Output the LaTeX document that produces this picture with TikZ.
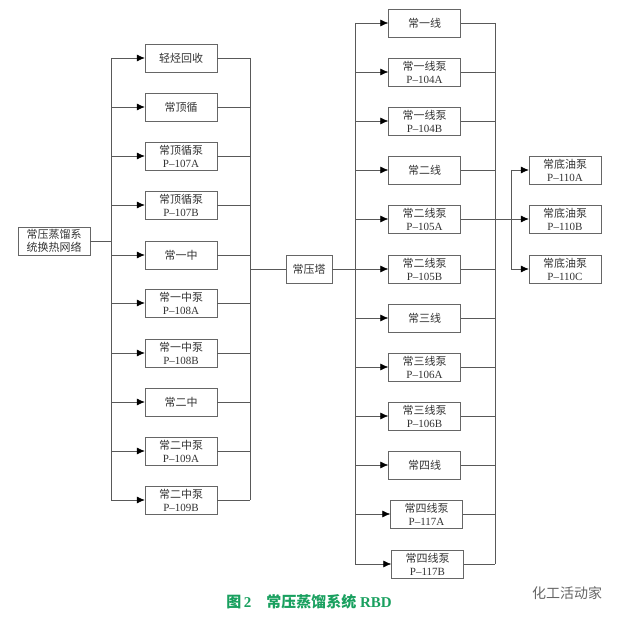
\documentclass[tikz,border=0pt]{standalone}
\usepackage{fontspec}
\setmainfont{Liberation Serif}
\newfontfamily\cjk{Noto Sans CJK SC}
\usetikzlibrary{arrows.meta}
\definecolor{capgreen}{RGB}{25,160,95}

\begin{document}
\begin{tikzpicture}[x=1pt,y=-1pt]

    \tikzstyle{unit} = [draw=black!60, minimum width=72pt, minimum height=28pt, inner sep=0pt, align=center, font=\fontsize{11}{13}\selectfont, text=black!80]
    \tikzstyle{link} = [draw=black!65, line width=0.5pt]
    \tikzstyle{feed} = [link, -{Latex[length=8pt,width=7pt,black]}]

    \useasboundingbox (0,0) rectangle (620,620);

    % Bus coordinates
    \coordinate (lbus) at (111,0);
    \coordinate (rbus) at (250,0);
    \coordinate (mbus) at (355,0);
    \coordinate (obus) at (495,0);
    \coordinate (pbus) at (511,0);

    % Nodes
    \node[unit] at (54,241) (src) {\cjk 常压蒸馏系\\\cjk 统换热网络};

    \node[unit] at (181,58) (l1) {\cjk 轻烃回收};
    \node[unit] at (181,107) (l2) {\cjk 常顶循};
    \node[unit] at (181,156) (l3) {\cjk 常顶循泵\\P--107A};
    \node[unit] at (181,205) (l4) {\cjk 常顶循泵\\P--107B};
    \node[unit] at (181,255) (l5) {\cjk 常一中};
    \node[unit] at (181,303) (l6) {\cjk 常一中泵\\P--108A};
    \node[unit] at (181,353) (l7) {\cjk 常一中泵\\P--108B};
    \node[unit] at (181,402) (l8) {\cjk 常二中};
    \node[unit] at (181,451) (l9) {\cjk 常二中泵\\P--109A};
    \node[unit] at (181,500) (l10) {\cjk 常二中泵\\P--109B};

    \node[unit, minimum width=46pt] at (309,269) (tower) {\cjk 常压塔};

    \node[unit] at (424.5,23) (m1) {\cjk 常一线};
    \node[unit] at (424.5,72) (m2) {\cjk 常一线泵\\P--104A};
    \node[unit] at (424.5,121) (m3) {\cjk 常一线泵\\P--104B};
    \node[unit] at (424.5,170) (m4) {\cjk 常二线};
    \node[unit] at (424.5,219) (m5) {\cjk 常二线泵\\P--105A};
    \node[unit] at (424.5,269) (m6) {\cjk 常二线泵\\P--105B};
    \node[unit] at (424.5,318) (m7) {\cjk 常三线};
    \node[unit] at (424.5,367) (m8) {\cjk 常三线泵\\P--106A};
    \node[unit] at (424.5,416) (m9) {\cjk 常三线泵\\P--106B};
    \node[unit] at (424.5,465) (m10) {\cjk 常四线};
    \node[unit] at (426.5,514) (m11) {\cjk 常四线泵\\P--117A};
    \node[unit] at (427.5,564) (m12) {\cjk 常四线泵\\P--117B};

    \node[unit] at (565,170) (b1) {\cjk 常底油泵\\P--110A};
    \node[unit] at (565,219) (b2) {\cjk 常底油泵\\P--110B};
    \node[unit] at (565,269) (b3) {\cjk 常底油泵\\P--110C};

    % Left column lines
    \draw[link] (src.east) -- (src.east -| lbus);
    \draw[link] (l1.west -| lbus) -- (l10.west -| lbus);
    \draw[link] (l1.east -| rbus) -- (l10.east -| rbus);
    \draw[feed] (l1.west -| lbus) -- (l1.west);
    \draw[feed] (l2.west -| lbus) -- (l2.west);
    \draw[feed] (l3.west -| lbus) -- (l3.west);
    \draw[feed] (l4.west -| lbus) -- (l4.west);
    \draw[feed] (l5.west -| lbus) -- (l5.west);
    \draw[feed] (l6.west -| lbus) -- (l6.west);
    \draw[feed] (l7.west -| lbus) -- (l7.west);
    \draw[feed] (l8.west -| lbus) -- (l8.west);
    \draw[feed] (l9.west -| lbus) -- (l9.west);
    \draw[feed] (l10.west -| lbus) -- (l10.west);
    \draw[link] (l1.east) -- (l1.east -| rbus);
    \draw[link] (l2.east) -- (l2.east -| rbus);
    \draw[link] (l3.east) -- (l3.east -| rbus);
    \draw[link] (l4.east) -- (l4.east -| rbus);
    \draw[link] (l5.east) -- (l5.east -| rbus);
    \draw[link] (l6.east) -- (l6.east -| rbus);
    \draw[link] (l7.east) -- (l7.east -| rbus);
    \draw[link] (l8.east) -- (l8.east -| rbus);
    \draw[link] (l9.east) -- (l9.east -| rbus);
    \draw[link] (l10.east) -- (l10.east -| rbus);
    \draw[link] (tower.west -| rbus) -- (tower.west);

    % Middle column lines
    \draw[link] (tower.east) -- (tower.east -| mbus);
    \draw[link] (m1.west -| mbus) -- (m12.west -| mbus);
    \draw[link] (m1.east -| obus) -- (m12.east -| obus);
    \draw[feed] (m1.west -| mbus) -- (m1.west);
    \draw[feed] (m2.west -| mbus) -- (m2.west);
    \draw[feed] (m3.west -| mbus) -- (m3.west);
    \draw[feed] (m4.west -| mbus) -- (m4.west);
    \draw[feed] (m5.west -| mbus) -- (m5.west);
    \draw[feed] (m6.west -| mbus) -- (m6.west);
    \draw[feed] (m7.west -| mbus) -- (m7.west);
    \draw[feed] (m8.west -| mbus) -- (m8.west);
    \draw[feed] (m9.west -| mbus) -- (m9.west);
    \draw[feed] (m10.west -| mbus) -- (m10.west);
    \draw[feed] (m11.west -| mbus) -- (m11.west);
    \draw[feed] (m12.west -| mbus) -- (m12.west);
    \draw[link] (m1.east) -- (m1.east -| obus);
    \draw[link] (m2.east) -- (m2.east -| obus);
    \draw[link] (m3.east) -- (m3.east -| obus);
    \draw[link] (m4.east) -- (m4.east -| obus);
    \draw[link] (m5.east) -- (m5.east -| obus);
    \draw[link] (m6.east) -- (m6.east -| obus);
    \draw[link] (m7.east) -- (m7.east -| obus);
    \draw[link] (m8.east) -- (m8.east -| obus);
    \draw[link] (m9.east) -- (m9.east -| obus);
    \draw[link] (m10.east) -- (m10.east -| obus);
    \draw[link] (m11.east) -- (m11.east -| obus);
    \draw[link] (m12.east) -- (m12.east -| obus);

    % Right column lines
    \draw[link] (m5.east -| obus) -- (b2.west -| pbus);
    \draw[link] (b1.west -| pbus) -- (b3.west -| pbus);
    \draw[feed] (b1.west -| pbus) -- (b1.west);
    \draw[feed] (b2.west -| pbus) -- (b2.west);
    \draw[feed] (b3.west -| pbus) -- (b3.west);

    % Labels
    \node[text=capgreen, font=\fontsize{15}{17}\selectfont\bfseries] at (309,602) (cap) {{\cjk 图}\,2\quad{\cjk 常压蒸馏系统} RBD};
    \node[text=black!60, font=\fontsize{14}{16}\selectfont] at (567,593) (mark) {\cjk 化工活动家};

\end{tikzpicture}
\end{document}
